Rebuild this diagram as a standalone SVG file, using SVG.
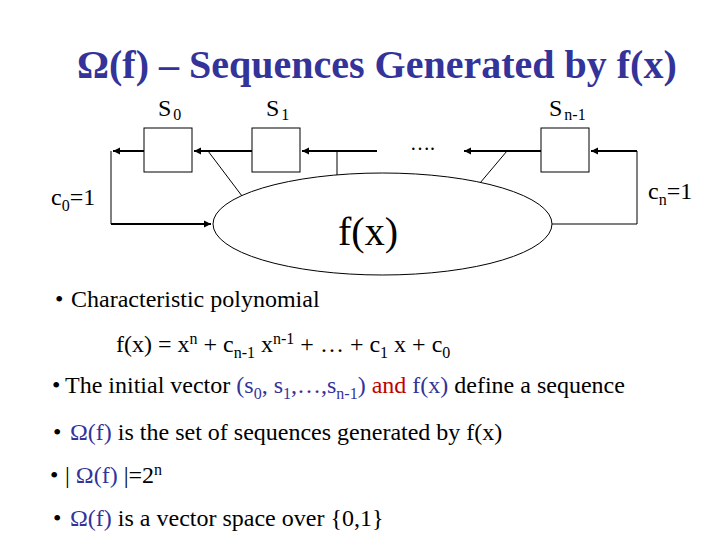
<svg xmlns="http://www.w3.org/2000/svg" width="720" height="540" viewBox="0 0 720 540">
<style>
text { font-family: "Liberation Serif", "Times New Roman", serif; fill: #000; }
.title { font-size: 40px; font-weight: bold; fill: #333399; }
.lbl { font-size: 24px; }
.sub { font-size: 16px; }
.body { font-size: 24px; }
.blue { fill: #333399; }
.red { fill: #c00000; }
.box { fill: #fff; stroke: #000; stroke-width: 1; }
.thick { fill: none; stroke: #000; stroke-width: 2; }
.thin { fill: none; stroke: #000; stroke-width: 1; }
</style>
<defs>
<marker id="ah" markerUnits="userSpaceOnUse" markerWidth="8" markerHeight="8" refX="7" refY="4" orient="auto">
<path d="M0,0.5 L7,4 L0,7.5 Z" fill="#000"/>
</marker>
</defs>
<rect width="720" height="540" fill="#fff"/>
<text class="title" x="77" y="78">Ω(f) – Sequences Generated by f(x)</text>

<g id="connectors">
<path class="thick" d="M144,151 L113,151" marker-end="url(#ah)"/>
<path class="thin" d="M111,151 L111,224"/>
<path class="thick" d="M111,224 L211,224" marker-end="url(#ah)"/>
<path class="thick" d="M252,151 L194,151" marker-end="url(#ah)"/>
<path class="thick" d="M377,151 L302,151" marker-end="url(#ah)"/>
<path class="thick" d="M541,151 L464,151" marker-end="url(#ah)"/>
<path class="thick" d="M637,151 L591,151" marker-end="url(#ah)"/>
<path class="thin" d="M552,224 L637,224 L637,151"/>
<path class="thin" d="M208,151 L242,196"/>
<path class="thin" d="M337,151 L337,175"/>
<path class="thin" d="M507,151 L480,183"/>
</g>

<g id="s0">
<rect class="box" x="144" y="128" width="48" height="44"/>
<text class="lbl" x="158" y="116">S<tspan class="sub" dy="4" dx="2">0</tspan></text>
</g>
<g id="s1">
<rect class="box" x="252" y="128" width="48" height="44"/>
<text class="lbl" x="266" y="116">S<tspan class="sub" dy="4" dx="2">1</tspan></text>
</g>
<g id="sn1">
<rect class="box" x="541" y="128" width="48" height="44"/>
<text class="lbl" x="549" y="116">S<tspan class="sub" dy="4" dx="2">n-1</tspan></text>
</g>
<g id="dots">
<text x="410" y="150" style="font-size:20px">….</text>
</g>
<g id="fx">
<ellipse class="thin" cx="382.5" cy="224" rx="169.5" ry="51" fill="none"/>
<text x="338" y="245" style="font-size:40px">f(x)</text>
</g>
<g id="c0">
<text class="lbl" x="51" y="205">c<tspan class="sub" dy="6">0</tspan><tspan dy="-6">=1</tspan></text>
</g>
<g id="cn">
<text class="lbl" x="648" y="199">c<tspan class="sub" dy="6">n</tspan><tspan dy="-6">=1</tspan></text>
</g>

<g id="bullets">
<text class="body" x="55" y="307">•</text>
<text class="body" x="71" y="307">Characteristic polynomial</text>
<text class="body" x="116" y="352">f(x) = x<tspan class="sub" dy="-8">n</tspan><tspan dy="8"> + c</tspan><tspan class="sub" dy="6">n-1</tspan><tspan dy="-6"> x</tspan><tspan class="sub" dy="-8">n-1</tspan><tspan dy="8"> + … + c</tspan><tspan class="sub" dy="6">1</tspan><tspan dy="-6"> x + c</tspan><tspan class="sub" dy="6">0</tspan></text>
<text class="body" x="52" y="393">•</text>
<text class="body" x="65" y="393">The initial vector <tspan class="blue">(s</tspan><tspan class="sub blue" dy="6">0</tspan><tspan class="blue" dy="-6">, s</tspan><tspan class="sub blue" dy="6">1</tspan><tspan class="blue" dy="-6">,…,s</tspan><tspan class="sub blue" dy="6">n-1</tspan><tspan class="blue" dy="-6">)</tspan> <tspan class="red">and</tspan> <tspan class="blue">f(x)</tspan> define a sequence</text>
<text class="body" x="53" y="440">•</text>
<text class="body" x="70" y="440"><tspan class="blue">Ω(f)</tspan> is the set of sequences generated by f(x)</text>
<text class="body" x="50" y="483">•</text>
<text class="body" x="65" y="483">| <tspan class="blue">Ω(f)</tspan> |=2<tspan class="sub" dy="-8">n</tspan></text>
<text class="body" x="53" y="526">•</text>
<text class="body" x="70" y="526"><tspan class="blue">Ω(f)</tspan> is a vector space over {0,1}</text>
</g>
</svg>
